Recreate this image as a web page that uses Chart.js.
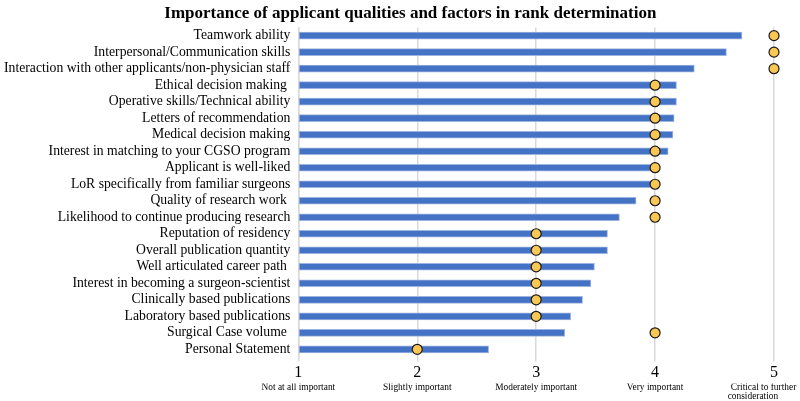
<!DOCTYPE html>
<html>
<head>
<meta charset="utf-8">
<script src="https://cdn.jsdelivr.net/npm/chart.js@4.4.1/dist/chart.umd.min.js"></script>
<style>
  html, body { margin: 0; padding: 0; background: #fff; }
  #wrap { width: 800px; height: 401px; }
</style>
</head>
<body>
<div id="wrap"><canvas id="rankChart"></canvas></div>
<script>
const factors = [
  "Teamwork ability",
  "Interpersonal/Communication skills",
  "Interaction with other applicants/non-physician staff",
  "Ethical decision making ",
  "Operative skills/Technical ability",
  "Letters of recommendation",
  "Medical decision making",
  "Interest in matching to your CGSO program",
  "Applicant is well-liked",
  "LoR specifically from familiar surgeons",
  "Quality of research work ",
  "Likelihood to continue producing research",
  "Reputation of residency",
  "Overall publication quantity",
  "Well articulated career path ",
  "Interest in becoming a surgeon-scientist",
  "Clinically based publications",
  "Laboratory based publications",
  "Surgical Case volume ",
  "Personal Statement"
];
const meanScores = [4.73, 4.60, 4.33, 4.18, 4.18, 4.16, 4.15, 4.11, 3.99, 3.98,
  3.84, 3.70, 3.60, 3.60, 3.49, 3.46, 3.39, 3.29, 3.24, 2.60];
const medianScores = [5, 5, 5, 4, 4, 4, 4, 4, 4, 4, 4, 4, 3, 3, 3, 3, 3, 3, 4, 2];
const scaleNumbers = [1, 2, 3, 4, 5];
const scaleLabels = [
  "Not at all important",
  "Slightly important",
  "Moderately important",
  "Very important",
  ["Critical to further", "consideration"]
];

const serif = "'Liberation Serif', 'Times New Roman', serif";
const nb = n => '\u00a0'.repeat(n);

new Chart(document.getElementById('rankChart'), {
  data: {
    labels: factors,
    datasets: [{
      type: 'line',
      label: 'Median',
      data: medianScores,
      showLine: false,
      pointRadius: 5,
      pointHoverRadius: 5,
      pointBackgroundColor: '#f9c752',
      pointBorderColor: '#1a1a1a',
      pointBorderWidth: 1.2,
      clip: false,
      order: 0
    }, {
      type: 'bar',
      label: 'Mean',
      data: meanScores,
      base: 1,
      backgroundColor: '#4472c4',
      borderColor: '#9db3e0',
      borderWidth: 1,
      borderSkipped: false,
      barThickness: 7,
      order: 1
    }]
  },
  options: {
    indexAxis: 'y',
    responsive: true,
    maintainAspectRatio: false,
    animation: false,
    layout: { padding: { left: 0, right: 26, top: 0, bottom: 1 } },
    plugins: {
      legend: { display: false },
      tooltip: { enabled: false },
      title: {
        display: true,
        // leading spaces nudge the title to the right like the original
        text: nb(11) + 'Importance of applicant qualities and factors in rank determination',
        color: '#000',
        font: { family: serif, size: 17, weight: 'bold' },
        padding: { top: 3, bottom: 4 }
      }
    },
    scales: {
      x: {
        type: 'linear',
        min: 1,
        max: 5,
        afterBuildTicks: function(axis) {
          axis.ticks = scaleNumbers.map(v => ({ value: v }));
        },
        grid: {
          color: '#d9d9d9',
          lineWidth: 1.5,
          drawTicks: true,
          tickLength: 4
        },
        border: { display: false },
        ticks: {
          color: '#000',
          font: { family: serif, size: 16, lineHeight: 1 },
          padding: 3,
          maxRotation: 0
        }
      },
      x2: {
        type: 'linear',
        position: 'bottom',
        min: 1,
        max: 5,
        afterBuildTicks: function(axis) {
          axis.ticks = scaleNumbers.map(v => ({ value: v }));
        },
        afterFit: function(axis) {
          axis.paddingRight = 0;
          axis.paddingLeft = 0;
        },
        grid: { display: false, drawTicks: false },
        border: { display: false },
        ticks: {
          color: '#000',
          font: { family: serif, size: 9.4, lineHeight: 0.98 },
          padding: -1,
          maxRotation: 0,
          autoSkip: false,
          callback: function(value) {
            const i = scaleNumbers.indexOf(value);
            if (i === scaleNumbers.length - 1) {
              // last label is pushed left so it stays inside the page
              return [scaleLabels[i][0] + nb(9), scaleLabels[i][1] + nb(18)];
            }
            return scaleLabels[i];
          }
        }
      },
      y: {
        grid: { display: false, drawTicks: true, tickLength: 4, color: '#d9d9d9' },
        border: { display: true, color: '#d9d9d9', width: 1.5 },
        ticks: {
          color: '#000',
          font: { family: serif, size: 13.7 },
          padding: 4,
          autoSkip: false
        }
      }
    }
  }
});
</script>
</body>
</html>
